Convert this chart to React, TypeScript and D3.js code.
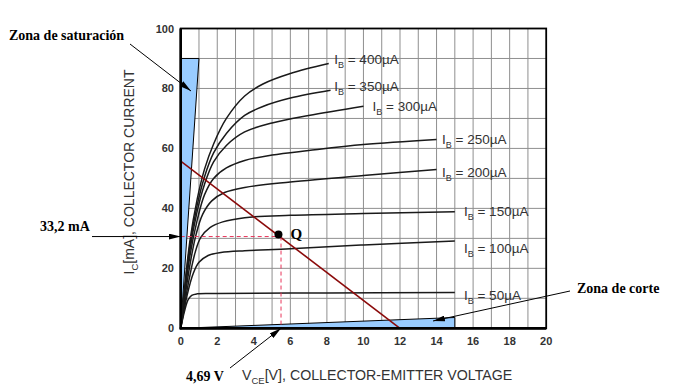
import React from "react";
import * as d3 from "d3";

const xTicks = [0, 2, 4, 6, 8, 10, 12, 14, 16, 18, 20];
const yTicks = [0, 20, 40, 60, 80, 100];

const ib50 = [[0, 0], [0.2, 5.5], [0.4, 9.5], [0.6, 11], [0.9, 11.5], [2, 11.6], [8, 11.8], [15, 11.9]];
const ib100 = [[0, 0], [0.35, 11], [0.7, 18.5], [1, 22], [1.5, 24.3], [2.2, 25.3], [3.5, 25.9], [6, 26.5], [10, 27.8], [15, 29.1]];
const ib150 = [[0, 0], [0.45, 16], [0.8, 25.5], [1.1, 30.3], [1.6, 33.6], [2.3, 35.5], [3.5, 36.9], [6, 37.7], [10, 38.3], [15, 38.9]];
const ib200 = [[0, 0], [0.5, 21], [0.85, 31.5], [1.2, 38], [1.7, 42.5], [2.4, 45.3], [3.5, 47], [6, 48.8], [10, 51], [14, 53]];
const ib250 = [[0, 0], [0.5, 24], [0.9, 36], [1.3, 44.5], [1.8, 50], [2.5, 53.5], [3.5, 56], [5, 57.8], [7, 59.3], [10, 61.3], [14, 63]];
const ib300 = [[0, 0], [0.5, 26], [0.9, 39], [1.3, 48], [1.8, 55.5], [2.5, 61], [3.5, 65.5], [5, 68.5], [7, 71], [10, 74.1]];
const ib350 = [[0, 0], [0.5, 27.5], [0.9, 41], [1.3, 50.5], [1.8, 58.5], [2.5, 65], [3.5, 71], [4.5, 74], [6, 76.8], [8.2, 79.4]];
const ib400 = [[0, 0], [0.5, 29], [0.9, 43], [1.3, 53], [1.8, 61.5], [2.5, 70], [3.5, 77.5], [4.5, 81.5], [6, 85], [8.1, 88.3]];

const curves = [ib50, ib100, ib150, ib200, ib250, ib300, ib350, ib400];
const curveLabels = ["50µA", "100µA", "150µA", "200µA", "250µA", "300µA", "350µA", "400µA"];
// label anchor positions in data units [x, y]
const labelPos = [[15.5, 9.5], [15.5, 25], [15.5, 37.5], [14.3, 50.5], [14.3, 61.5], [10.5, 72.5], [8.4, 79], [8.4, 88]];

const saturationZone = [[0, 0], [0, 90], [1, 90]];
const cutoffZone = [[0, 0], [15, 0], [15, 3.6]];
const loadLine = [[0, 55.8], [12, 0]];
const qPoint = [5.35, 31.3];
const qDash = [5.49, 30.6];

export default function App() {
  const W = 687, H = 392;
  const x = d3.scaleLinear().domain([0, 20]).range([180.7, 546.2]);
  const y = d3.scaleLinear().domain([0, 100]).range([328.3, 28.5]);
  const line = d3.line<number[]>().x(d => x(d[0])).y(d => y(d[1])).curve(d3.curveCatmullRom.alpha(0.5));
  const straight = d3.line<number[]>().x(d => x(d[0])).y(d => y(d[1]));
  const poly = (pts: number[][]) => straight(pts) + "Z";
  const vGrid = d3.range(1, 20);
  const hGrid = d3.range(10, 100, 10);
  const serif = "'Liberation Serif', 'Times New Roman', serif";
  const sans = "'Liberation Sans', Arial, sans-serif";

  return (
    <svg width={W} height={H} style={{ position: "absolute", left: 0, top: 0, background: "#fff" }}>
      <defs>
        <marker id="ah" viewBox="0 0 12 6" refX="12" refY="3" markerWidth="12" markerHeight="6" markerUnits="userSpaceOnUse" orient="auto">
          <path d="M0,0 L12,3 L0,6 Z" fill="#000" />
        </marker>
      </defs>
      <rect x={0} y={0} width={W} height={H} fill="#fff" />
      {/* grid */}
      {vGrid.map(v => (
        <line key={"v" + v} x1={x(v)} x2={x(v)} y1={y(0)} y2={y(100)} stroke="#8f8f8f" strokeWidth={1} />
      ))}
      {hGrid.map(v => (
        <line key={"h" + v} x1={x(0)} x2={x(20)} y1={y(v)} y2={y(v)} stroke="#8f8f8f" strokeWidth={1} />
      ))}
      {/* zones */}
      <path d={poly(saturationZone)} fill="#99ccff" stroke="#000" strokeWidth={1} />
      <path d={poly(cutoffZone)} fill="#99ccff" stroke="#000" strokeWidth={1} />
      {/* curves */}
      {curves.map((c, i) => (
        <path key={"c" + i} d={line(c) || ""} fill="none" stroke="#1a1a1a" strokeWidth={1.5} />
      ))}
      {/* load line */}
      <path d={straight(loadLine) || ""} stroke="#8b0a0a" strokeWidth={1.6} fill="none" />
      {/* dashed Q lines */}
      <line x1={x(0)} x2={x(qDash[0])} y1={y(qDash[1])} y2={y(qDash[1])} stroke="#e8355a" strokeWidth={1} strokeDasharray="4,3" />
      <line x1={x(qDash[0])} x2={x(qDash[0])} y1={y(qDash[1])} y2={y(0)} stroke="#e8355a" strokeWidth={1} strokeDasharray="4,3" />
      <circle cx={x(qPoint[0])} cy={y(qPoint[1])} r={4} fill="#000" />
      <text x={x(qPoint[0]) + 12} y={y(qPoint[1]) + 5} fontFamily={serif} fontWeight="bold" fontSize={15}>Q</text>
      {/* frame */}
      <rect x={x(0)} y={y(100)} width={x(20) - x(0)} height={y(0) - y(100)} fill="none" stroke="#000" strokeWidth={1.8} />
      <line x1={x(0)} x2={x(0)} y1={y(0) + 1} y2={y(100)} stroke="#000" strokeWidth={2.6} />
      <line x1={x(0) - 1} x2={x(20)} y1={y(0)} y2={y(0)} stroke="#000" strokeWidth={2.8} />
      {/* tick labels */}
      {xTicks.map(t => (
        <text key={"xt" + t} x={x(t)} y={345} textAnchor="middle" fontFamily={sans} fontWeight="bold" fontSize={11} fill="#333">{t}</text>
      ))}
      {yTicks.map(t => (
        <text key={"yt" + t} x={174} y={y(t) + 4} textAnchor="end" fontFamily={sans} fontWeight="bold" fontSize={11} fill="#333">{t}</text>
      ))}
      {/* curve labels */}
      {curveLabels.map((l, i) => (
        <text key={"l" + i} x={x(labelPos[i][0])} y={y(labelPos[i][1])} fontFamily={sans} fontSize={13.5} fill="#333">
          I<tspan fontSize={9} dy={4}>B</tspan><tspan dy={-4}>{" = " + l}</tspan>
        </text>
      ))}
      {/* axis titles */}
      <text transform="translate(134,172) rotate(-90)" textAnchor="middle" fontFamily={sans} fontSize={14} fill="#333">
        I<tspan fontSize={9.5} dy={4}>C</tspan><tspan dy={-4}>[mA], COLLECTOR CURRENT</tspan>
      </text>
      <text x={242} y={380} fontFamily={sans} fontSize={14.2} fill="#333">
        V<tspan fontSize={9.5} dy={4}>CE</tspan><tspan dy={-4}>[V], COLLECTOR-EMITTER VOLTAGE</tspan>
      </text>
      {/* annotations */}
      <text x={9} y={40} fontFamily={serif} fontWeight="bold" fontSize={14}>Zona de saturación</text>
      <line x1={130} y1={44} x2={191} y2={91} stroke="#000" strokeWidth={1} markerEnd="url(#ah)" />
      <text x={40} y={231} fontFamily={serif} fontWeight="bold" fontSize={14}>33,2 mA</text>
      <line x1={92} y1={y(qDash[1])} x2={x(0)} y2={y(qDash[1])} stroke="#000" strokeWidth={1} markerEnd="url(#ah)" />
      <text x={186} y={381} fontFamily={serif} fontWeight="bold" fontSize={14}>4,69 V</text>
      <line x1={230} y1={368} x2={x(qDash[0])} y2={y(0)} stroke="#000" strokeWidth={1} markerEnd="url(#ah)" />
      <text x={577} y={293} fontFamily={serif} fontWeight="bold" fontSize={14}>Zona de corte</text>
      <line x1={570} y1={291} x2={433} y2={321} stroke="#000" strokeWidth={1} markerEnd="url(#ah)" />
    </svg>
  );
}
